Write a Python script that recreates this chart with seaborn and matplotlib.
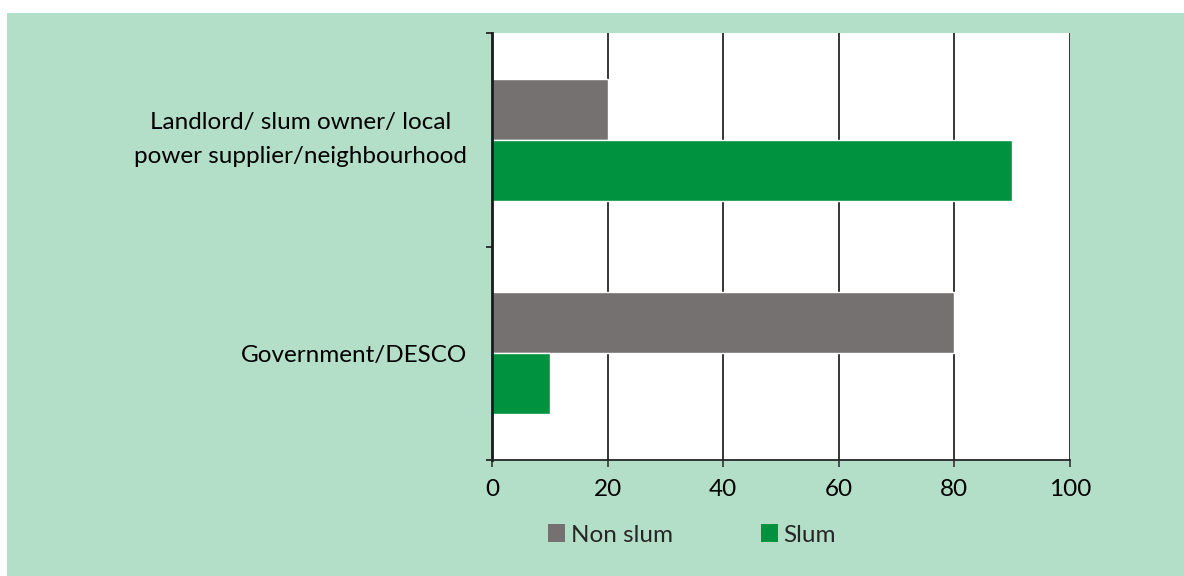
import matplotlib
matplotlib.use("Agg")
import matplotlib.pyplot as plt
import seaborn as sns
import pandas as pd
from matplotlib.patches import Rectangle

categories = ["Landlord/ slum owner/ local\npower supplier/neighbourhood", "Government/DESCO"]
series_names = ["Non slum", "Slum"]
non_slum = [20, 80]
slum = [90, 10]
x_ticks = [0, 20, 40, 60, 80, 100]

colors = {"Non slum": "#767171", "Slum": "#00923F"}
bg = "#B3DEC8"

sns.set_theme(style="white")
plt.rcParams['font.family'] = ['Lato', 'DejaVu Sans']

df = pd.DataFrame({
    "source": categories * 2,
    "area": [series_names[0]] * 2 + [series_names[1]] * 2,
    "value": non_slum + slum,
})

fig = plt.figure(figsize=(11.84, 5.76), dpi=100)
fig.patch.set_facecolor("white")
fig.patches.append(Rectangle((7 / 1184, 0), 1 - 7 / 1184, 1 - 13 / 576,
                             transform=fig.transFigure, facecolor=bg,
                             edgecolor="none", zorder=-10))

ax = fig.add_axes([492 / 1184, 1 - 460 / 576, (1070 - 492) / 1184, (460 - 33) / 576])
ax.set_facecolor("white")

sns.barplot(data=df, y="source", x="value", hue="area", order=categories,
            hue_order=series_names, palette=colors, orient="h", width=0.573,
            saturation=1, ax=ax, errorbar=None)

ax.set_xlim(0, 100)
ax.set_ylim(1.5, -0.5)
ax.set_xticks(x_ticks)
ax.set_xlabel("")
ax.set_ylabel("")

ax.xaxis.grid(True, color="#262626", lw=1.3, zorder=0)
ax.set_axisbelow(True)
for s in ["top", "right"]:
    ax.spines[s].set_visible(False)
ax.spines["left"].set_color("#1a1a1a")
ax.spines["left"].set_linewidth(2)
ax.spines["bottom"].set_color("#262626")
ax.spines["bottom"].set_linewidth(1.3)

fs = 17.5
ax.tick_params(axis="x", which="major", direction="out", length=5, width=1.3,
               color="#404040", pad=9, labelsize=fs, labelcolor="black", bottom=True)
ax.tick_params(axis="y", which="major", length=0, pad=18, labelsize=fs, labelcolor="black")
for lab in ax.get_yticklabels():
    lab.set_multialignment("center")
    lab.set_linespacing(1.75)
    if "\n" in lab.get_text():
        lab.set_va("center")
ax.set_yticks([-0.5, 0.5, 1.5], minor=True)
ax.tick_params(axis="y", which="minor", direction="out", length=4.5, width=1.3,
               color="#262626", left=True)

h, l = ax.get_legend_handles_labels()
if ax.get_legend() is not None:
    ax.get_legend().remove()
for hh in h:
    hh.set_edgecolor("none")
fig.legend(h, l, loc="center", bbox_to_anchor=(692 / 1184, 1 - 535 / 576), ncol=2,
           frameon=False, fontsize=fs, handlelength=0.7, handleheight=0.7,
           handletextpad=0.25, columnspacing=3.6)

fig.savefig("out.png", dpi=100, facecolor=fig.get_facecolor())
